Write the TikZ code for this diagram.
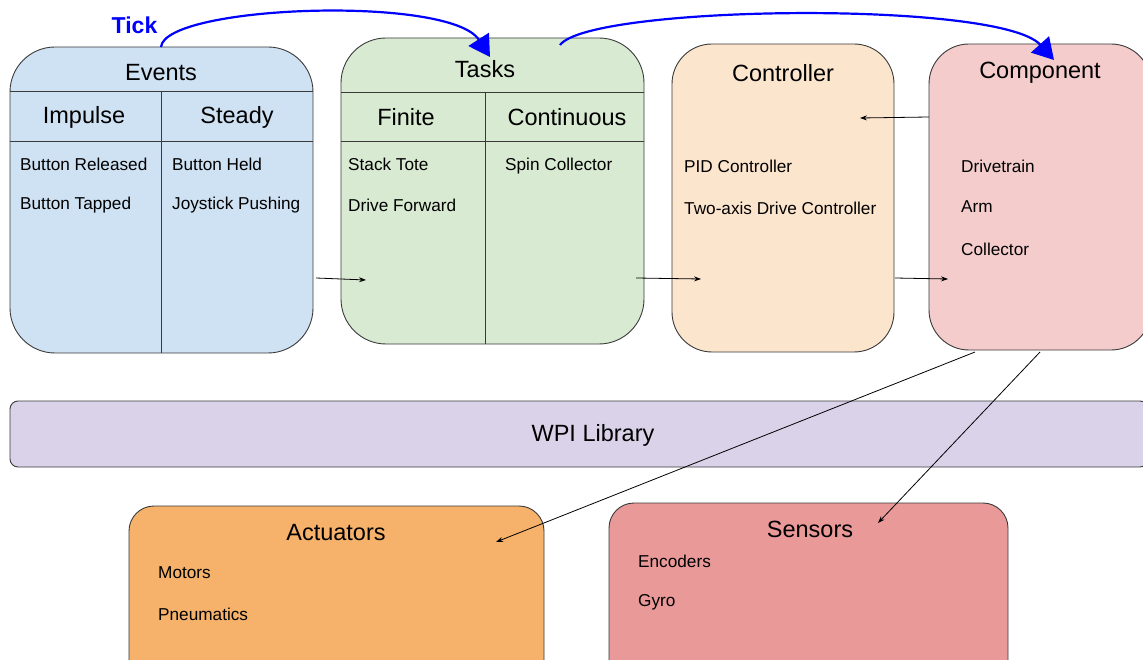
\documentclass[tikz,border=0pt]{standalone}
\usepackage{fontspec}
\setmainfont{Liberation Sans}
\usetikzlibrary{arrows.meta}
\definecolor{evfill}{HTML}{CFE2F3}
\definecolor{tkfill}{HTML}{D9EAD3}
\definecolor{ctfill}{HTML}{FCE5CD}
\definecolor{cpfill}{HTML}{F4CCCC}
\definecolor{wpifill}{HTML}{D9D2E9}
\definecolor{acfill}{HTML}{F6B26B}
\definecolor{snfill}{HTML}{EA9999}
\definecolor{edge}{HTML}{3A3A3A}
\definecolor{tickblue}{HTML}{0000FF}
\tikzset{
  box/.style={draw=edge, line width=0.9pt, inner sep=0pt, outer sep=0pt},
  title/.style={font=\fontsize{23.5}{26}\selectfont, inner sep=0pt},
  item/.style={font=\fontsize{17.2}{20}\selectfont, anchor=west, inner sep=0pt},
  divider/.style={draw=edge, line width=0.9pt},
  flow/.style={draw=black, line width=0.8pt, -{Stealth[length=7pt,width=5pt]}},
  tickflow/.style={draw=tickblue, line width=2.2pt, -{Triangle[length=21pt,width=24pt]}},
}
\begin{document}
\begin{tikzpicture}[x=1pt,y=-1pt]
\useasboundingbox (0,0) rectangle (1143,660);
\clip (0,0) rectangle (1143,660);

% main boxes
\node[box, fill=evfill, rounded corners=45pt, minimum width=303pt, minimum height=306pt] (ev) at (161.5,200) {};
\node[box, fill=tkfill, rounded corners=45pt, minimum width=303pt, minimum height=306pt] (tk) at (492.5,191) {};
\node[box, fill=ctfill, rounded corners=40pt, minimum width=222pt, minimum height=308pt] (ct) at (783,198) {};
\node[box, fill=cpfill, rounded corners=40pt, minimum width=222pt, minimum height=306pt] (cp) at (1040,197) {};
\node[box, fill=wpifill, rounded corners=8pt, minimum width=1138pt, minimum height=66pt] (wpi) at (579,434) {};
\node[box, fill=acfill, rounded corners=25pt, minimum width=415pt, minimum height=190pt] (ac) at (336.5,601) {};
\node[box, fill=snfill, rounded corners=25pt, minimum width=399pt, minimum height=190pt] (sn) at (808.5,598) {};

% table rules inside Events and Tasks
\draw[divider] (ev.west |- 0,91) -- (ev.east |- 0,91);
\draw[divider] (ev.west |- 0,141) -- (ev.east |- 0,141);
\draw[divider] (161,91) -- (161,0 |- ev.south);
\draw[divider] (tk.west |- 0,92) -- (tk.east |- 0,92);
\draw[divider] (tk.west |- 0,141) -- (tk.east |- 0,141);
\draw[divider] (485,92) -- (485,0 |- tk.south);

% Events
\node[title] (evt) at (161,73) {Events};
\node[title] (evi) at (84,117) {Impulse};
\node[title] (evs) at (237,117) {Steady};
\node[item] (ev1) at (20,164) {Button Released};
\node[item] (ev2) at (20,205) {Button Tapped};
\node[item] (ev3) at (172,164) {Button Held};
\node[item] (ev4) at (172,205) {Joystick Pushing};

% Tasks
\node[title] (tkt) at (485,69) {Tasks};
\node[title] (tkf) at (406,117) {Finite};
\node[title] (tkc) at (567,117) {Continuous};
\node[item] (tk1) at (348,164) {Stack Tote};
\node[item] (tk2) at (348,205) {Drive Forward};
\node[item] (tk3) at (505,166) {Spin Collector};

% Controller
\node[title] (ctt) at (783,73) {Controller};
\node[item] (ct1) at (684,166) {PID Controller};
\node[item] (ct2) at (684,208) {Two-axis Drive Controller};

% Component
\node[title] (cpt) at (1040,73) {Component};
\node[item] (cp1) at (961,166) {Drivetrain};
\node[item] (cp2) at (961,207) {Arm};
\node[item] (cp3) at (961,249) {Collector};

% WPI Library
\node[title] (wpit) at (593,435) {WPI Library};

% Actuators and Sensors
\node[title] (act) at (336,533) {Actuators};
\node[item] (ac1) at (158,573) {Motors};
\node[item] (ac2) at (158,614) {Pneumatics};
\node[title] (snt) at (810,529) {Sensors};
\node[item] (sn1) at (638,561) {Encoders};
\node[item] (sn2) at (638,602) {Gyro};

% Tick label
\node[font=\bfseries\fontsize{23}{26}\selectfont, text=tickblue, inner sep=0pt] (tick) at (134.5,25) {Tick};

% connector end points
\coordinate (evTop) at (161,47);
\coordinate (tkIn) at (490,57);
\coordinate (tkTop) at (560,45);
\coordinate (cpIn) at (1054,60);
\coordinate (evOut) at (316,278);
\coordinate (tkFlowIn) at (366,280);
\coordinate (tkOut) at (636,278);
\coordinate (ctFlowIn) at (701,279);
\coordinate (ctOut) at (895,278);
\coordinate (cpFlowIn) at (948,279);
\coordinate (cpBack) at (929,117);
\coordinate (ctBackIn) at (860,118);
\coordinate (cpLow1) at (975,352);
\coordinate (acIn) at (496,542);
\coordinate (cpLow2) at (1040,352);
\coordinate (snIn) at (878,523);

% tick connectors
\draw[tickflow] (evTop) .. controls (165,5) and (450,-5) .. (tkIn);
\draw[tickflow] (tkTop) .. controls (590,5) and (1000,0) .. (cpIn);

% data flow
\draw[flow] (evOut) -- (tkFlowIn);
\draw[flow] (tkOut) -- (ctFlowIn);
\draw[flow] (ctOut) -- (cpFlowIn);
\draw[flow] (cpBack) -- (ctBackIn);
\draw[flow] (cpLow1) -- (acIn);
\draw[flow] (cpLow2) -- (snIn);
\end{tikzpicture}
\end{document}
